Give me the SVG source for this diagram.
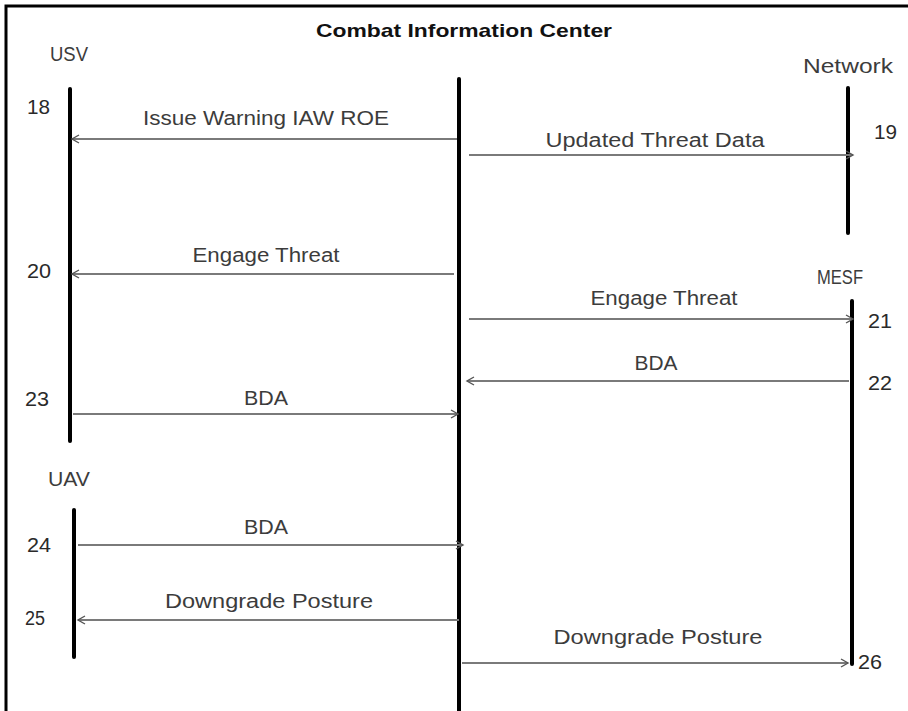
<svg xmlns="http://www.w3.org/2000/svg" width="908" height="711" viewBox="0 0 908 711">
<style>
.life{stroke:#000;stroke-width:4;stroke-linecap:round}
.msg{stroke:#7a7a7a;stroke-width:2;fill:none;marker-end:url(#ah)}
.t{font-family:"Liberation Sans","Open Sans",sans-serif;font-size:20px;fill:#3c3c3c}
.title{font-family:"Liberation Sans","Open Sans",sans-serif;font-size:19px;font-weight:bold;fill:#111}
.n{font-family:"Liberation Sans","Open Sans",sans-serif;font-size:20px;fill:#2a2a2a}
</style>
<defs>
<marker id="ah" markerWidth="10" markerHeight="10" refX="8" refY="5" orient="auto" markerUnits="userSpaceOnUse">
<path d="M1,1 L8,5 L1,9" fill="none" stroke="#555" stroke-width="1.4"/>
</marker>
</defs>
<rect width="908" height="711" fill="#fff"/>
<path d="M6,711 V6 H908" fill="none" stroke="#000" stroke-width="3"/>
<text class="title" x="464" y="37" text-anchor="middle" textLength="296" lengthAdjust="spacingAndGlyphs">Combat Information Center</text>

<g id="usv">
<text class="t" x="50" y="61" textLength="38" lengthAdjust="spacingAndGlyphs">USV</text>
<line class="life" x1="70" y1="89" x2="70" y2="441"/>
</g>
<g id="cic">
<line class="life" x1="459" y1="79" x2="459" y2="712"/>
</g>
<g id="network">
<text class="t" x="803" y="73" textLength="90" lengthAdjust="spacingAndGlyphs">Network</text>
<line class="life" x1="848" y1="88" x2="848" y2="233"/>
</g>
<g id="mesf">
<text class="t" x="817" y="284" textLength="46" lengthAdjust="spacingAndGlyphs">MESF</text>
<line class="life" x1="852" y1="301" x2="852" y2="664"/>
</g>
<g id="uav">
<text class="t" x="48" y="486" textLength="42" lengthAdjust="spacingAndGlyphs">UAV</text>
<line class="life" x1="74" y1="510" x2="74" y2="657"/>
</g>

<g id="connectors">
<line class="msg" x1="457" y1="139" x2="72" y2="139"/>
<text class="t" x="266" y="125" text-anchor="middle" textLength="246" lengthAdjust="spacingAndGlyphs">Issue Warning IAW ROE</text>
<text class="n" x="27" y="114" textLength="23" lengthAdjust="spacingAndGlyphs">18</text>

<line class="msg" x1="469" y1="155" x2="853" y2="155"/>
<text class="t" x="655" y="147" text-anchor="middle" textLength="219" lengthAdjust="spacingAndGlyphs">Updated Threat Data</text>
<text class="n" x="874" y="139" textLength="23" lengthAdjust="spacingAndGlyphs">19</text>

<line class="msg" x1="454" y1="274" x2="72" y2="274"/>
<text class="t" x="266" y="262" text-anchor="middle" textLength="147" lengthAdjust="spacingAndGlyphs">Engage Threat</text>
<text class="n" x="27" y="278" textLength="24" lengthAdjust="spacingAndGlyphs">20</text>

<line class="msg" x1="469" y1="319" x2="853" y2="319"/>
<text class="t" x="664" y="305" text-anchor="middle" textLength="147" lengthAdjust="spacingAndGlyphs">Engage Threat</text>
<text class="n" x="868" y="328" textLength="24" lengthAdjust="spacingAndGlyphs">21</text>

<line class="msg" x1="849" y1="381" x2="467" y2="381"/>
<text class="t" x="656" y="370" text-anchor="middle" textLength="43" lengthAdjust="spacingAndGlyphs">BDA</text>
<text class="n" x="868" y="390" textLength="24" lengthAdjust="spacingAndGlyphs">22</text>

<line class="msg" x1="73" y1="414" x2="458" y2="414"/>
<text class="t" x="266" y="405" text-anchor="middle" textLength="44" lengthAdjust="spacingAndGlyphs">BDA</text>
<text class="n" x="25" y="406" textLength="24" lengthAdjust="spacingAndGlyphs">23</text>

<line class="msg" x1="78" y1="545" x2="463" y2="545"/>
<text class="t" x="266" y="534" text-anchor="middle" textLength="44" lengthAdjust="spacingAndGlyphs">BDA</text>
<text class="n" x="27" y="552" textLength="24" lengthAdjust="spacingAndGlyphs">24</text>

<line class="msg" x1="459" y1="620" x2="78" y2="620"/>
<text class="t" x="269" y="608" text-anchor="middle" textLength="208" lengthAdjust="spacingAndGlyphs">Downgrade Posture</text>
<text class="n" x="25" y="625" textLength="20" lengthAdjust="spacingAndGlyphs">25</text>

<line class="msg" x1="462" y1="663" x2="848" y2="663"/>
<text class="t" x="658" y="644" text-anchor="middle" textLength="209" lengthAdjust="spacingAndGlyphs">Downgrade Posture</text>
<text class="n" x="858" y="669" textLength="24" lengthAdjust="spacingAndGlyphs">26</text>
</g>
</svg>
